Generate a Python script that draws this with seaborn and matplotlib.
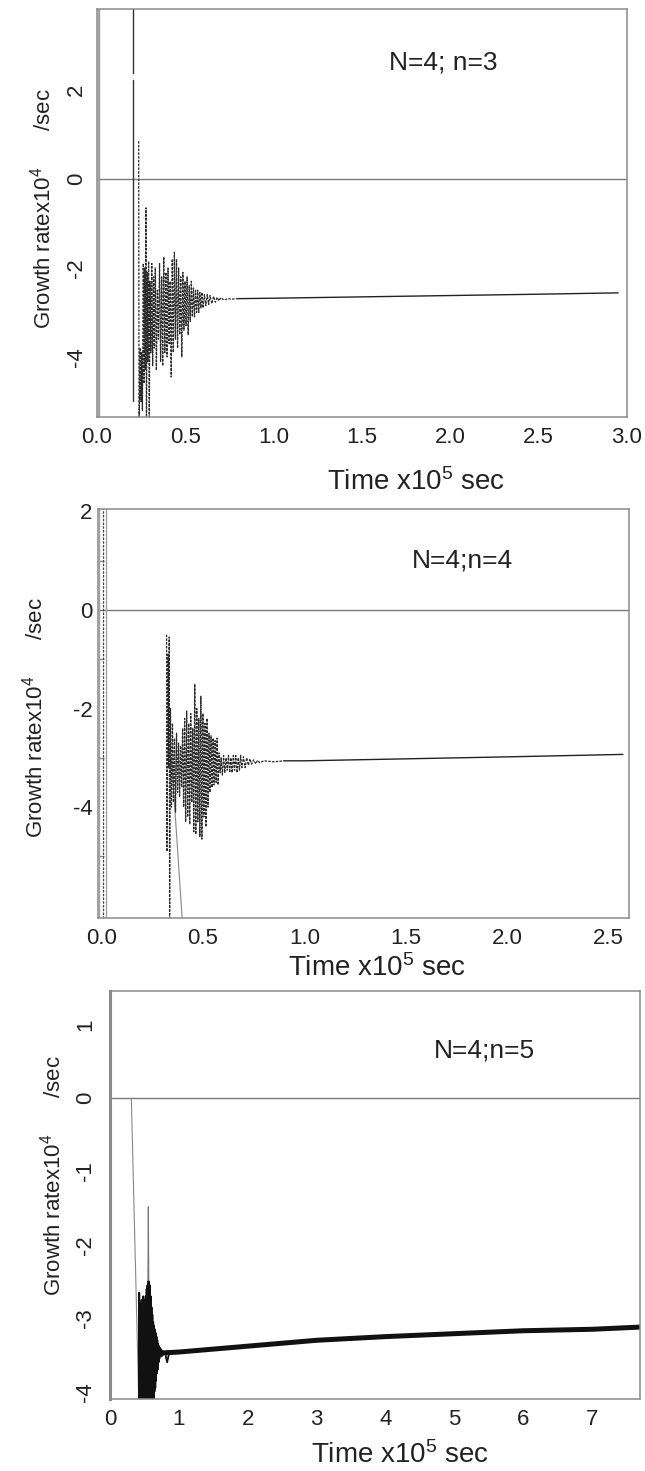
import matplotlib
matplotlib.use('Agg')
import matplotlib.pyplot as plt
import seaborn as sns

# =========================
# DATA (time in 1e5 s, growth rate in 1e-4 /s)
# =========================
# panel 1 : N=4; n=3
p1_edge_t = [0.004, 0.004, 0.014, 0.014]
p1_edge_g = [-6.0, 4.5, 4.5, -6.0]
p1_jump_a_t = [0.206, 0.206]
p1_jump_a_g = [4.5, 2.38]
p1_jump_b_t = [0.206, 0.206]
p1_jump_b_g = [2.22, -4.98]
p1_burst_t = [0.236, 0.238, 0.245, 0.249, 0.253, 0.257, 0.262, 0.266, 0.270, 0.274,
              0.277, 0.280, 0.284, 0.288, 0.292, 0.296, 0.300, 0.305, 0.310, 0.315,
              0.320, 0.325, 0.330, 0.336, 0.342, 0.348, 0.354, 0.360, 0.366, 0.372,
              0.378, 0.384, 0.390, 0.396, 0.402, 0.408, 0.414, 0.420, 0.426, 0.432,
              0.438, 0.444, 0.450, 0.456, 0.462, 0.468, 0.474, 0.480, 0.486, 0.492,
              0.498, 0.504, 0.510, 0.516, 0.522, 0.528, 0.534, 0.540, 0.546, 0.552,
              0.558, 0.564, 0.570, 0.576, 0.582, 0.588, 0.594, 0.600, 0.608, 0.616,
              0.624, 0.632, 0.640, 0.650, 0.660, 0.670, 0.680, 0.690, 0.700, 0.720,
              0.740, 0.760, 0.800]
p1_burst_g = [0.85, -5.6, -3.8, -5.0, -3.9, -5.2, -1.9, -4.6, -2.0, -4.3,
              -0.65, -5.6, -2.1, -4.1, -1.85, -5.6, -2.3, -3.9, -1.9, -4.2,
              -2.2, -3.8, -2.0, -4.3, -2.5, -3.6, -1.9, -4.1, -2.2, -4.2,
              -1.75, -3.9, -2.1, -4.0, -2.0, -3.7, -2.3, -4.45, -1.8, -3.9,
              -1.65, -3.6, -1.8, -3.8, -2.0, -3.5, -2.2, -4.0, -2.1, -3.4,
              -2.3, -3.3, -2.2, -3.5, -2.4, -3.2, -2.3, -3.1, -2.45, -3.1,
              -2.5, -3.0, -2.5, -3.0, -2.55, -2.9, -2.55, -2.9, -2.6, -2.85,
              -2.6, -2.82, -2.62, -2.8, -2.64, -2.77, -2.66, -2.74, -2.67, -2.72,
              -2.69, -2.70, -2.69]
p1_trend_t = [0.80, 1.0, 1.5, 2.0, 2.5, 2.95]
p1_trend_g = [-2.69, -2.68, -2.65, -2.62, -2.59, -2.56]

# panel 2 : N=4;n=4
p2_edge_t = [-0.010, -0.010, 0.022, 0.022]
p2_edge_g = [-7.0, 3.0, 3.0, -7.0]
p2_core_t = [0.006, 0.006]
p2_core_g = [3.0, -7.0]
p2_slope_t = [0.345, 0.400]
p2_slope_g = [-3.0, -6.4]
p2_burst_t = [0.321, 0.323, 0.327, 0.331, 0.334, 0.336, 0.340, 0.345, 0.350, 0.355,
              0.360, 0.365, 0.370, 0.375, 0.380, 0.385, 0.390, 0.395, 0.400, 0.405,
              0.410, 0.415, 0.420, 0.425, 0.430, 0.435, 0.440, 0.445, 0.450, 0.455,
              0.460, 0.465, 0.470, 0.475, 0.480, 0.485, 0.490, 0.495, 0.500, 0.505,
              0.510, 0.515, 0.520, 0.525, 0.530, 0.535, 0.540, 0.545, 0.550, 0.555,
              0.560, 0.565, 0.570, 0.575, 0.580, 0.585, 0.590, 0.596, 0.602, 0.608,
              0.614, 0.620, 0.626, 0.632, 0.638, 0.644, 0.650, 0.656, 0.662, 0.668,
              0.674, 0.680, 0.686, 0.692, 0.700, 0.708, 0.716, 0.724, 0.732, 0.740,
              0.750, 0.760, 0.770, 0.780, 0.800, 0.850, 0.900]
p2_burst_g = [-0.5, -4.9, -0.9, -3.2, -0.55, -6.4, -2.0, -4.0, -2.3, -3.9,
              -2.6, -4.1, -2.5, -3.7, -2.7, -3.8, -2.75, -3.6, -2.4, -4.0,
              -2.2, -4.3, -2.05, -4.2, -2.3, -4.35, -2.1, -3.9, -2.4, -4.5,
              -1.5, -4.55, -2.0, -4.3, -2.2, -4.6, -1.75, -4.65, -2.1, -4.2,
              -2.3, -4.4, -2.2, -4.0, -2.5, -3.7, -2.55, -3.6, -2.6, -3.55,
              -2.65, -3.5, -2.6, -3.55, -2.9, -3.3, -3.0, -3.35, -2.95, -3.3,
              -3.0, -3.25, -2.95, -3.3, -3.0, -3.3, -2.95, -3.25, -2.95, -3.3,
              -3.0, -3.25, -2.95, -3.2, -2.98, -3.2, -3.0, -3.15, -3.02, -3.13,
              -3.04, -3.12, -3.05, -3.1, -3.06, -3.08, -3.06]
p2_trend_t = [0.90, 1.0, 1.5, 2.0, 2.57]
p2_trend_g = [-3.06, -3.06, -3.02, -2.98, -2.93]

# panel 3 : N=4;n=5
p3_drop_t = [0.31, 0.42]
p3_drop_g = [0.0, -4.2]
p3_spike_t = [0.550, 0.557, 0.564]
p3_spike_g = [-2.6, -1.48, -2.6]
p3_burst_t = [0.420, 0.425, 0.430, 0.436, 0.442, 0.448, 0.454, 0.460, 0.466, 0.472,
              0.478, 0.484, 0.490, 0.496, 0.502, 0.508, 0.514, 0.520, 0.526, 0.532,
              0.538, 0.544, 0.550, 0.556, 0.562, 0.568, 0.574, 0.580, 0.586, 0.592,
              0.598, 0.604, 0.610, 0.616, 0.622, 0.628, 0.634, 0.640, 0.646, 0.652,
              0.658, 0.664, 0.670, 0.676, 0.682, 0.688, 0.694, 0.700, 0.706, 0.712,
              0.718, 0.724, 0.730, 0.740, 0.750, 0.760, 0.770, 0.780, 0.800, 0.830,
              0.860]
p3_burst_g = [-4.2, -2.65, -4.2, -2.8, -4.2, -2.9, -4.2, -2.75, -4.2, -2.85,
              -4.2, -2.7, -4.2, -2.8, -4.2, -2.75, -4.2, -2.7, -4.2, -2.6,
              -4.2, -2.55, -4.2, -2.5, -4.2, -2.5, -4.2, -2.55, -4.2, -2.7,
              -4.2, -2.85, -4.2, -2.95, -4.15, -3.05, -4.1, -3.1, -4.0, -3.15,
              -3.95, -3.2, -3.85, -3.25, -3.75, -3.3, -3.7, -3.35, -3.6, -3.38,
              -3.55, -3.4, -3.5, -3.42, -3.52, -3.44, -3.5, -3.45, -3.47, -3.6,
              -3.47]
p3_trend_t = [0.80, 1.0, 2.0, 3.0, 4.0, 5.0, 6.0, 7.0, 7.7]
p3_trend_g = [-3.47, -3.46, -3.38, -3.30, -3.25, -3.21, -3.17, -3.15, -3.12]

labels = ['N=4; n=3', 'N=4;n=4', 'N=4;n=5']
xlabel = r'Time x10$^5$ sec'
ylabel = r'Growth ratex10$^4$' + '      /sec'

# =========================
# STYLE
# =========================
sns.set_theme(style='white')
plt.rcParams['font.family'] = ['Liberation Sans', 'DejaVu Sans']
plt.rcParams['mathtext.fontset'] = 'custom'
plt.rcParams['mathtext.rm'] = 'Liberation Sans'
plt.rcParams['mathtext.it'] = 'Liberation Sans'
plt.rcParams['axes.unicode_minus'] = False

W, H = 645, 1471
fig = plt.figure(figsize=(W / 100, H / 100), dpi=100)

def box(l, r, t, b):
    return [l / W, (H - b) / H, (r - l) / W, (b - t) / H]

ax1 = fig.add_axes(box(97, 627, 9, 417))
ax2 = fig.add_axes(box(98, 629, 509, 918))
ax3 = fig.add_axes(box(110, 640, 991, 1399))

def trace(ax, t, g, color='#222222', lw=0.8, ls='-'):
    sns.lineplot(x=t, y=g, ax=ax, estimator=None, sort=False,
                 color=color, lw=lw, ls=ls, legend=False)

# panel 1
trace(ax1, p1_edge_t, p1_edge_g, color='#a0a0a0', lw=1.0)
trace(ax1, p1_jump_a_t, p1_jump_a_g, color='#333333', lw=1.0)
trace(ax1, p1_jump_b_t, p1_jump_b_g, color='#333333', lw=1.0)
trace(ax1, p1_burst_t, p1_burst_g, color='#2a2a2a', lw=0.9, ls=(0, (2, 1)))
trace(ax1, p1_trend_t, p1_trend_g, color='#222222', lw=1.0)

# panel 2
trace(ax2, p2_edge_t, p2_edge_g, color='#a0a0a0', lw=1.0)
trace(ax2, p2_core_t, p2_core_g, color='#444444', lw=0.9, ls=(0, (2, 1)))
trace(ax2, p2_slope_t, p2_slope_g, color='#888888', lw=0.8)
trace(ax2, p2_burst_t, p2_burst_g, color='#2a2a2a', lw=0.9, ls=(0, (2, 1)))
trace(ax2, p2_trend_t, p2_trend_g, color='#222222', lw=1.0)

# panel 3
trace(ax3, p3_drop_t, p3_drop_g, color='#888888', lw=0.8)
trace(ax3, p3_spike_t, p3_spike_g, color='#777777', lw=0.8)
trace(ax3, p3_burst_t, p3_burst_g, color='#111111', lw=1.3)
trace(ax3, p3_trend_t, p3_trend_g, color='#111111', lw=3.6)

# =========================
# AXES
# =========================
setup = [
    (ax1, (0, 3.0), (-5.35, 3.82), [0, 0.5, 1.0, 1.5, 2.0, 2.5, 3.0], [-4, -2, 0, 2], '%.1f', 90),
    (ax2, (-0.017, 2.6), (-6.25, 2.05), [0, 0.5, 1.0, 1.5, 2.0, 2.5], [-4, -2, 0, 2], '%.1f', 0),
    (ax3, (0, 7.7), (-4.1, 1.46), [0, 1, 2, 3, 4, 5, 6, 7], [-4, -3, -2, -1, 0, 1], '%d', 90),
]
for ax, xl, yl, xt, yt, fmt, rot in setup:
    ax.axhline(0, color='#7a7a7a', lw=1.0, zorder=0)
    ax.set_xlim(*xl)
    ax.set_ylim(*yl)
    ax.set_xticks(xt)
    ax.set_xticklabels([fmt % v for v in xt])
    ax.set_yticks(yt)
    ax.set_yticklabels(['%d' % v for v in yt])
    for s in ax.spines.values():
        s.set_color('#8a8a8a')
        s.set_linewidth(1.1)
    ax.tick_params(axis='both', direction='in', length=5, width=1,
                   color='#8a8a8a', labelsize=16, labelcolor='#222222')
    ax.tick_params(axis='x', pad=7)
    if rot:
        ax.tick_params(axis='y', labelrotation=90, pad=7)
        for lab in ax.get_yticklabels():
            lab.set_va('center')
    else:
        ax.tick_params(axis='y', pad=4)

ax3.tick_params(axis='y', pad=10)
ax3.spines['left'].set_linewidth(2.2)
ax2.set_yticks([-5, -3, -1, 1], minor=True)
ax2.tick_params(axis='y', which='minor', direction='in', length=4, width=1,
                color='#8a8a8a', left=True)

# labels
for ax, lx, ly, tx, ty, yx, yy, txt in [
    (ax1, 0.602, -0.159, 0.653, 0.868, -0.102, 0.512, labels[0]),
    (ax2, 0.525, -0.122, 0.687, 0.873, -0.119, 0.490, labels[1]),
    (ax3, 0.547, -0.137, 0.706, 0.855, -0.108, 0.547, labels[2]),
]:
    ax.set_xlabel(xlabel, fontsize=20, color='#222222', va='center')
    ax.xaxis.set_label_coords(lx, ly)
    ax.set_ylabel(ylabel, fontsize=16, color='#222222', va='center')
    ax.yaxis.set_label_coords(yx, yy)
    ax.text(tx, ty, txt, transform=ax.transAxes, ha='center', va='center',
            fontsize=19, color='#222222')

plt.savefig('out.png', dpi=100)
